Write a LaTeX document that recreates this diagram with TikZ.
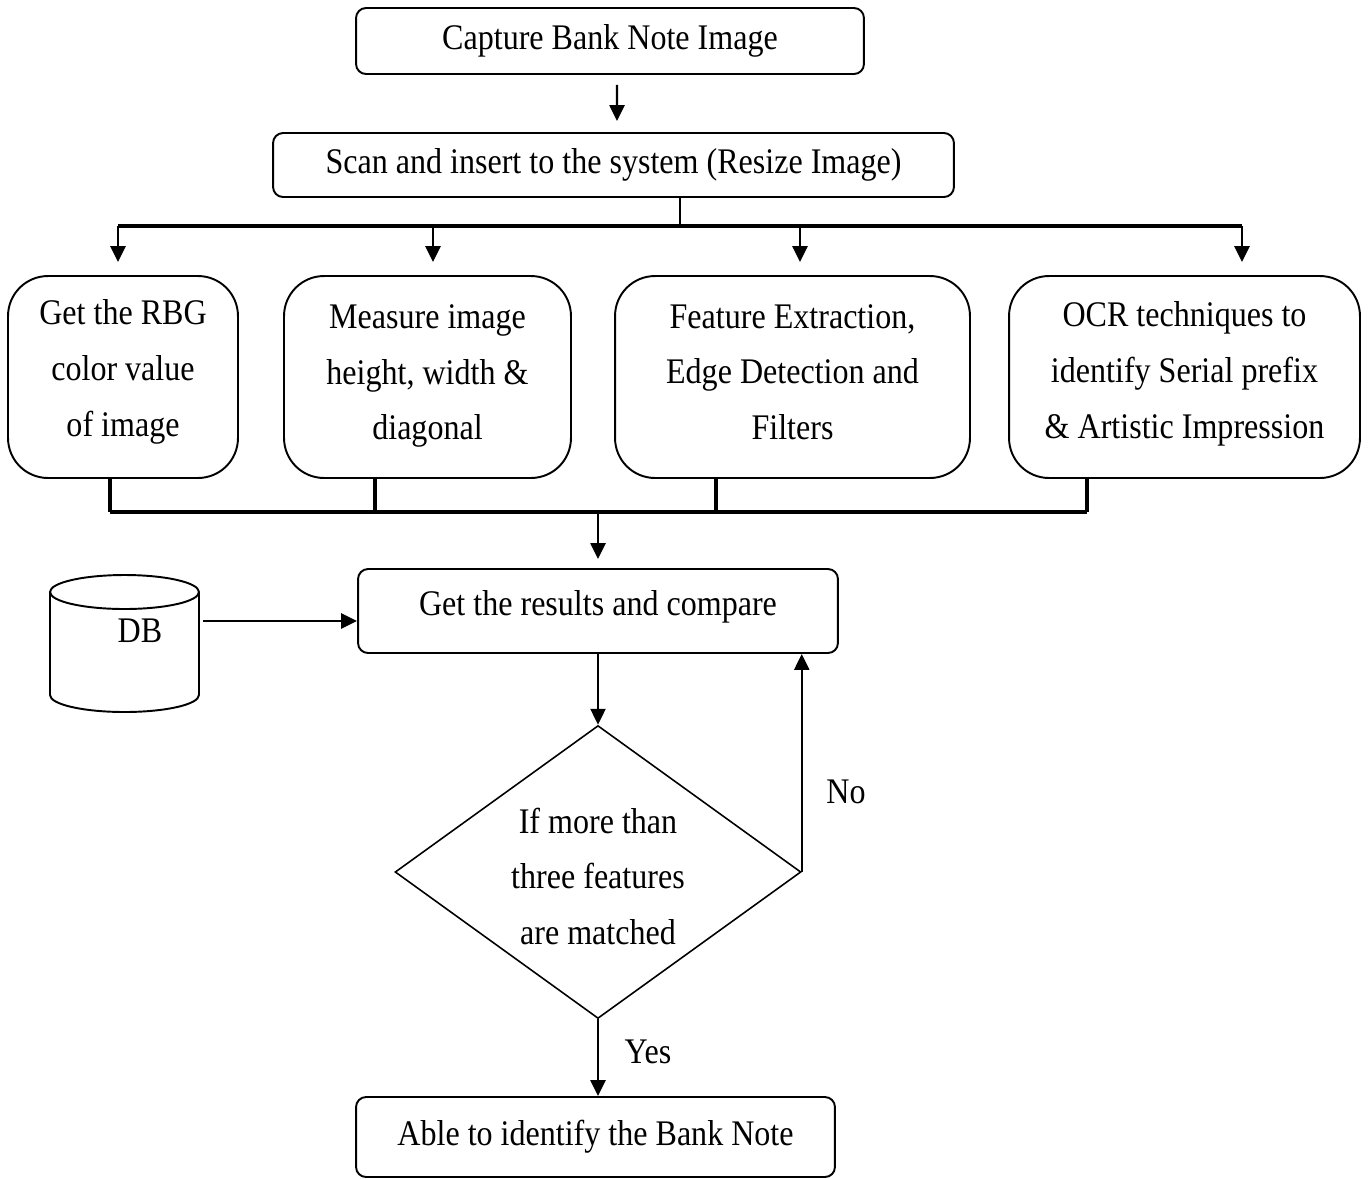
\documentclass[tikz,border=0pt]{standalone}
\usepackage{fontspec}
\setmainfont{Liberation Serif}[FakeStretch=0.89]
\usepackage{tikz}
\usetikzlibrary{positioning,calc,arrows.meta,shapes}

\tikzset{
  stepbox/.style={draw,rounded corners=0.2cm,line width=1.1pt,align=center,inner sep=0pt},
  featbox/.style={draw,rounded corners=0.8cm,line width=1.1pt,align=center,inner sep=0pt,minimum height=4.04cm},
  decide/.style={draw,diamond,aspect=1.39,line width=0.9pt,align=center,inner sep=0pt,minimum width=8.12cm,minimum height=5.86cm},
  flow/.style={line width=1.4pt,-{Triangle[width=0.3cm,length=0.32cm]}},
  link/.style={line width=1.4pt},
  bar/.style={line width=2pt},
}

\begin{document}
\begin{tikzpicture}[x=0.02cm,y=-0.02cm,font=\fontsize{20.5}{31.6}\selectfont]
  \useasboundingbox (0,0) rectangle (1370,1178);

  % top of the flow
  \node[stepbox,minimum width=10.16cm,minimum height=1.32cm] (capture) at (610,41) {Capture Bank Note Image};
  \node[stepbox,minimum width=13.62cm,minimum height=1.28cm] (scan) at (613.5,165) {Scan and insert to the system (Resize Image)};
  \draw[flow] ([xshift=0.14cm,yshift=-0.2cm]capture.south) -- ([xshift=0.07cm,yshift=0.22cm]scan.north);

  \coordinate (split) at ([xshift=1.33cm,yshift=-0.56cm]scan.south);
  \draw[link] (scan.south -| split) -- (split);

  % the four checks
  \foreach \name/\cx/\boxw/\tin/\tout/\lift/\txt in {rgb/123/4.6/-0.1/-0.26/0.36/{Get the RBG\\color value\\of image},
      size/427.5/5.74/0.11/-1.05/0.19/{Measure image\\height, width \&\\diagonal},
      edge/792.5/7.1/0.15/-1.53/0.2/{Feature Extraction,\\Edge Detection and\\Filters},
      ocr/1184.5/7.02/1.15/-1.95/0.28/{OCR techniques to\\identify Serial prefix\\\& Artistic Impression}} {
    \node[featbox,minimum width=\boxw cm,text depth=\lift cm] (\name) at (\cx,377) {\txt};
    \coordinate (\name-in) at ([xshift=\tin cm,yshift=0.26cm]\name.north);
    \coordinate (\name-out) at ([xshift=\tout cm]\name.south);
    \draw[flow] (\name-in |- split) -- (\name-in);
  }
  \draw[bar] (rgb-in |- split) -- (ocr-in |- split);

  % compare step
  \node[stepbox,minimum width=9.6cm,minimum height=1.68cm,
        label={[anchor=center,yshift=-0.78cm]north:Get the results and compare}] (result) at (598,611) {};
  \coordinate (join) at ([yshift=1.12cm]result.north);
  \foreach \name in {rgb,size,edge,ocr} {
    \draw[bar] (\name-out) -- (\name-out |- join);
  }
  \draw[bar] (rgb-out |- join) -- (ocr-out |- join);
  \draw[flow] (join) -- ([yshift=0.18cm]result.north);

  % database
  \draw[line width=1.1pt] (50,592) -- (50,695) arc (180:360:1.49cm and 0.34cm) -- (199,592);
  \draw[line width=1.1pt] (124.5,592) ellipse [x radius=1.49cm, y radius=0.34cm];
  \node (db) at (140,631) {DB};
  \coordinate (dbout) at (203,621);
  \draw[flow] (dbout) -- (dbout -| result.west);

  % decision
  \node[decide] (match) at (598,872) {};
  \node (matchtxt) at (598,876) [align=center] {If more than\\three features\\are matched};
  \draw[flow] (result.south) -- (match.north);
  \draw[flow] (match.east) -- (match.east |- result.south);
  \node (nolbl) at (846,792) {No};

  \node[stepbox,minimum width=9.58cm,minimum height=1.6cm] (final) at (595.5,1137) {Able to identify the Bank Note};
  \draw[flow] (match.south) -- (match.south |- final.north);
  \node (yeslbl) at (648,1052) {Yes};
\end{tikzpicture}
\end{document}
